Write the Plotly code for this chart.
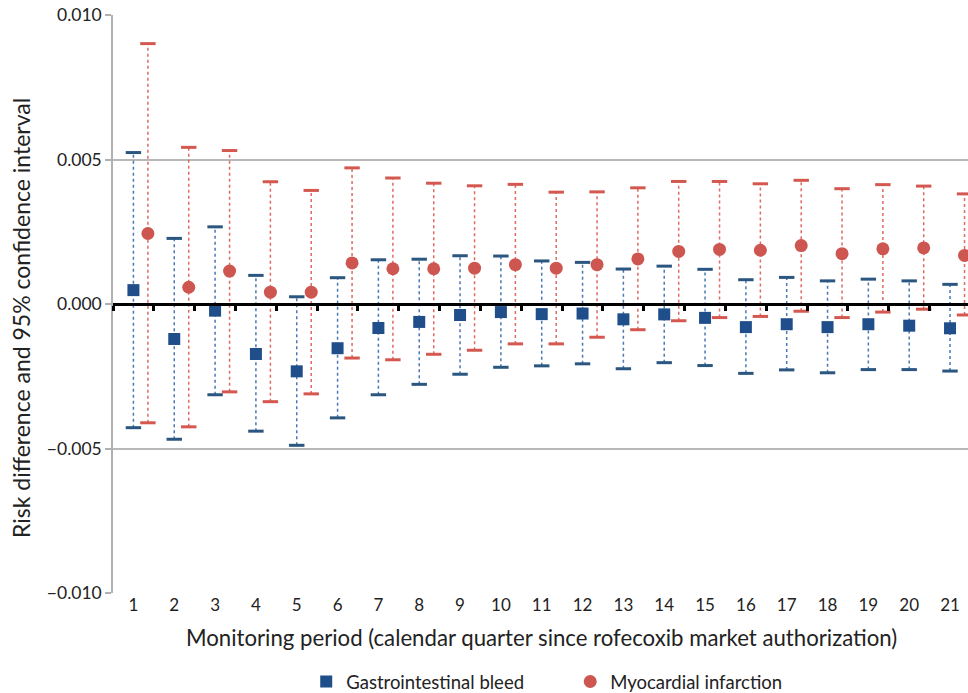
import plotly.graph_objects as go

periods = list(range(1, 22))

gi_rd = [0.00048, -0.00121, -0.00023, -0.00173, -0.00233, -0.00153, -0.00083, -0.00062, -0.00038, -0.00028,
         -0.00035, -0.00033, -0.00053, -0.00036, -0.00048, -0.00080, -0.00070, -0.00080, -0.00070, -0.00075, -0.00084]
gi_hi = [0.00524, 0.00227, 0.00267, 0.00099, 0.00025, 0.00091, 0.00153, 0.00155, 0.00167, 0.00166,
         0.00149, 0.00144, 0.00121, 0.00131, 0.00120, 0.00084, 0.00092, 0.00080, 0.00086, 0.00080, 0.00068]
gi_lo = [-0.00428, -0.00468, -0.00314, -0.00440, -0.00489, -0.00394, -0.00314, -0.00278, -0.00243, -0.00219,
         -0.00214, -0.00207, -0.00224, -0.00203, -0.00213, -0.00240, -0.00228, -0.00238, -0.00227, -0.00227, -0.00232]

mi_rd = [0.00244, 0.00058, 0.00114, 0.00041, 0.00041, 0.00142, 0.00122, 0.00122, 0.00124, 0.00136,
         0.00124, 0.00136, 0.00156, 0.00182, 0.00189, 0.00186, 0.00202, 0.00174, 0.00191, 0.00194, 0.00168]
mi_hi = [0.00901, 0.00542, 0.00531, 0.00423, 0.00393, 0.00471, 0.00436, 0.00418, 0.00409, 0.00414,
         0.00387, 0.00388, 0.00402, 0.00424, 0.00424, 0.00416, 0.00428, 0.00399, 0.00413, 0.00408, 0.00381]
mi_lo = [-0.00411, -0.00425, -0.00304, -0.00338, -0.00311, -0.00187, -0.00193, -0.00174, -0.00160, -0.00138,
         -0.00138, -0.00115, -0.00089, -0.00058, -0.00047, -0.00043, -0.00025, -0.00047, -0.00028, -0.00018, -0.00038]

y_ticks = [-0.010, -0.005, 0.000, 0.005, 0.010]
series_names = ["Gastrointestinal bleed", "Myocardial infarction"]

MI_OFFSET = 0.355
FONT = "Lato, Open Sans, sans-serif"

BLUE_MARK = "#1f4e8a"
BLUE_LINE = "#4a78b5"
BLUE_CAP = "#2a5680"
RED_MARK = "#cd5650"
RED_LINE = "#de6a63"
RED_CAP = "#d4584f"


def segs(xs, lo, hi):
    sx, sy = [], []
    for x, a, b in zip(xs, lo, hi):
        sx += [x, x, None]
        sy += [a, b, None]
    return sx, sy


fig = go.Figure()

gi_x = periods
mi_x = [p + MI_OFFSET for p in periods]

for xs, lo, hi, lc, cc in [(gi_x, gi_lo, gi_hi, BLUE_LINE, BLUE_CAP),
                           (mi_x, mi_lo, mi_hi, RED_LINE, RED_CAP)]:
    sx, sy = segs(xs, lo, hi)
    fig.add_trace(go.Scatter(x=sx, y=sy, mode="lines", showlegend=False, hoverinfo="skip",
                             line=dict(color=lc, width=1.5, dash="dot")))
    fig.add_trace(go.Scatter(x=list(xs) + list(xs), y=list(lo) + list(hi), mode="markers",
                             showlegend=False, hoverinfo="skip",
                             marker=dict(symbol="line-ew", size=11, line=dict(color=cc, width=3))))

fig.add_trace(go.Scatter(x=gi_x, y=gi_rd, mode="markers", name=series_names[0],
                         marker=dict(symbol="square", size=12, color=BLUE_MARK)))
fig.add_trace(go.Scatter(x=mi_x, y=mi_rd, mode="markers", name=series_names[1],
                         marker=dict(symbol="circle", size=13, color=RED_MARK)))

# zero line axis with boundary ticks
fig.add_trace(go.Scatter(x=[None], y=[None], xaxis="x2", showlegend=False, hoverinfo="skip"))

fig.update_layout(
    width=968, height=693,
    margin=dict(l=113, r=0, t=15, b=100, autoexpand=False),
    plot_bgcolor="white", paper_bgcolor="white",
    font=dict(family=FONT, color="#222222"),
    xaxis=dict(range=[0.5, 21.44], tickvals=periods, ticktext=[str(p) for p in periods],
               showgrid=False, zeroline=False, showline=False, ticks="",
               tickfont=dict(size=17, family=FONT, color="#222")),
    xaxis2=dict(range=[0.5, 21.44], overlaying="x", anchor="free", position=0.5,
                tickvals=[p - 0.5 for p in periods] + [21.5], showticklabels=False,
                ticks="outside", ticklen=5, tickwidth=3, tickcolor="black",
                showline=True, linecolor="black", linewidth=3, showgrid=False, zeroline=False),
    yaxis=dict(range=[-0.010, 0.010], tickvals=y_ticks, tickformat=".3f",
               showgrid=True, gridcolor="#b8b8b8", gridwidth=1.5,
               showline=True, linecolor="#b0b0b0", linewidth=1.5,
               ticks="outside", ticklen=6, tickcolor="#b0b0b0", tickwidth=1.5,
               zeroline=False, tickfont=dict(size=17.5, family=FONT, color="#222")),
    legend=dict(orientation="h", x=0.226, xanchor="left", y=(593 - 682) / 578, yanchor="middle",
                entrywidth=219, entrywidthmode="pixels",
                font=dict(size=18.5, family=FONT, color="#222")),
    annotations=[
        dict(text="Monitoring period (calendar quarter since rofecoxib market authorization)",
             xref="paper", yref="paper", x=(541 - 113) / 855, y=(593 - 637) / 578,
             xanchor="center", yanchor="middle", showarrow=False,
             font=dict(size=22.2, family=FONT, color="#222")),
        dict(text="Risk difference and 95% confidence interval",
             xref="paper", yref="paper", x=(21 - 113) / 855, y=(593 - 318) / 578,
             xanchor="center", yanchor="middle", showarrow=False, textangle=-90,
             font=dict(size=23, family=FONT, color="#222")),
    ],
)

fig.write_html("out.html")
